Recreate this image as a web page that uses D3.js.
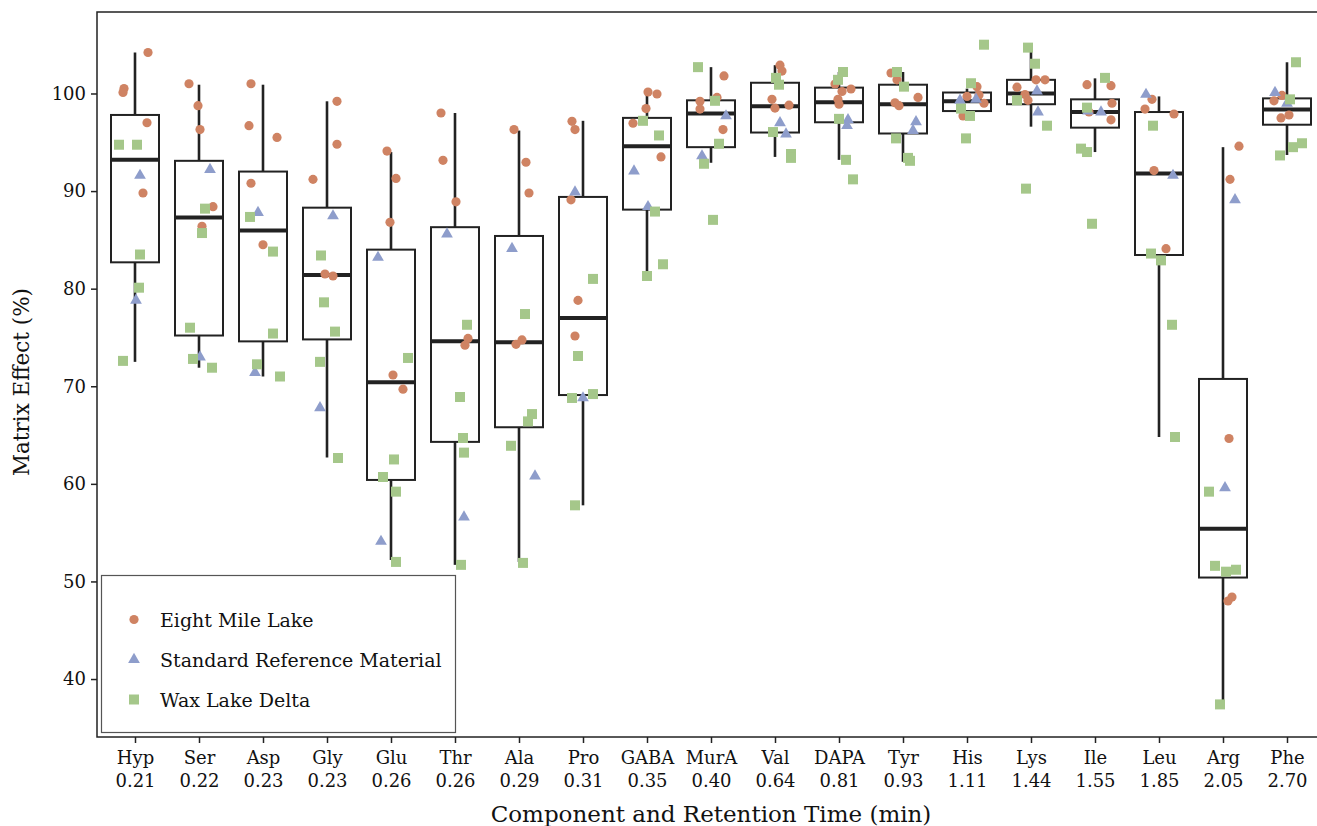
<!DOCTYPE html>
<html>
<head>
<meta charset="utf-8">
<script src="https://cdn.jsdelivr.net/npm/d3@7"></script>
<style>
  body { margin: 0; background: #fff; }
  svg { display: block; font-family: 'DejaVu Serif', serif; }
</style>
</head>
<body>
<div id="chart"></div>
<script>
// components and their retention times (min)
const components = ['Hyp', 'Ser', 'Asp', 'Gly', 'Glu', 'Thr', 'Ala', 'Pro', 'GABA', 'MurA',
  'Val', 'DAPA', 'Tyr', 'His', 'Lys', 'Ile', 'Leu', 'Arg', 'Phe']
const retention = ['0.21', '0.22', '0.23', '0.23', '0.26', '0.26', '0.29', '0.31', '0.35', '0.40',
  '0.64', '0.81', '0.93', '1.11', '1.44', '1.55', '1.85', '2.05', '2.70']

// box stats (%)
const whiskerLow = [72.5, 71.9, 71.0, 62.7, 52.2, 51.7, 52.0, 57.8, 81.5, 92.9, 93.5, 93.2, 93.0, 97.7, 96.6, 94.0, 64.8, 37.4, 93.7]
const q1 = [82.7, 75.2, 74.6, 74.8, 60.4, 64.3, 65.8, 69.1, 88.1, 94.5, 96.0, 97.05, 95.9, 98.2, 98.9, 96.5, 83.45, 50.4, 96.8]
const median = [93.2, 87.3, 85.95, 81.4, 70.4, 74.6, 74.5, 77.0, 94.6, 97.95, 98.7, 99.1, 98.9, 99.2, 100.0, 98.1, 91.8, 55.4, 98.35]
const q3 = [97.8, 93.1, 92.0, 88.3, 84.0, 86.3, 85.4, 89.4, 97.5, 99.3, 101.1, 100.6, 100.9, 100.1, 101.4, 99.4, 98.1, 70.75, 99.5]
const whiskerHigh = [104.2, 100.9, 100.9, 99.2, 94.0, 98.0, 96.2, 97.2, 100.1, 102.7, 102.9, 102.2, 102.2, 100.5, 104.6, 101.55, 99.7, 94.5, 103.2]

// matrix effect per site, one list per component
const eightMile = [
  [104.2, 100.5, 100.1, 97.0, 89.8], [101.0, 98.75, 96.3, 88.4, 86.4], [101.0, 96.7, 95.5, 90.8, 84.5],
  [99.2, 94.8, 91.2, 81.5, 81.3], [94.1, 91.3, 86.8, 71.15, 69.7], [98.0, 93.15, 88.9, 74.9, 74.2],
  [96.3, 92.95, 89.8, 74.75, 74.3], [97.15, 96.3, 89.1, 78.8, 75.15], [100.15, 99.95, 98.45, 96.95, 93.5],
  [101.8, 99.6, 99.2, 98.4, 96.3], [102.9, 102.3, 99.4, 98.8, 98.5], [100.97, 100.46, 100.2, 99.4, 98.9],
  [102.1, 101.4, 99.6, 99.05, 98.75], [100.7, 99.85, 99.7, 99.0, 97.7], [101.4, 101.4, 100.65, 99.9, 99.3],
  [100.9, 100.8, 99.0, 98.1, 97.3], [99.4, 98.4, 97.9, 92.1, 84.1], [94.6, 91.2, 64.65, 48.4, 48.0],
  [99.8, 99.25, 97.8, 97.5]
]
const srm = [
  [91.6, 78.8], [92.2, 73.0], [87.8, 71.4], [87.45, 67.8], [83.2, 54.1], [85.6, 56.6], [84.1, 60.8],
  [89.9, 68.8], [92.05, 88.4], [97.7, 93.6], [97.0, 95.85], [97.3, 96.7], [97.1, 96.2], [99.4, 99.3],
  [100.25, 98.1], [98.2, 98.1], [99.9, 91.6], [89.1, 59.6], [100.1, 99.0]
]
const waxLake = [
  [94.75, 94.75, 83.5, 80.1, 72.6], [88.2, 85.7, 76.0, 72.8, 71.9], [87.35, 83.8, 75.4, 72.25, 71.0],
  [83.4, 78.6, 75.6, 72.5, 62.65], [72.9, 62.5, 60.7, 59.2, 52.0], [76.3, 68.9, 64.7, 63.2, 51.7],
  [77.4, 67.15, 66.4, 63.9, 51.9], [81.0, 73.1, 68.8, 69.2, 57.8], [97.2, 95.7, 87.9, 82.5, 81.3],
  [102.7, 99.25, 94.85, 92.8, 87.05], [101.6, 100.9, 96.05, 93.8, 93.4], [102.2, 101.4, 97.4, 93.2, 91.2],
  [102.2, 100.7, 95.4, 93.4, 93.1], [105.0, 101.05, 98.45, 97.7, 95.4], [104.7, 103.05, 99.3, 96.7, 90.25],
  [101.6, 98.55, 94.35, 94.0, 86.65], [96.7, 83.6, 82.9, 76.3, 64.8], [59.2, 51.6, 51.0, 51.2, 37.4],
  [103.2, 99.4, 94.9, 94.5, 93.65]
]
// horizontal jitter, in units of category step (as drawn in the original)
const eightMileJitter = [
  [13, -11, -12, 12, 8], [-10, -1, 1, 14, 3], [-12, -14, 14, -12, 0], [10, 10, -14, -2, 6], [-4, 5, -1, 2, 12],
  [-14, -12, 1, 13, 10], [-5, 7, 10, 3, -3], [-11, -8, -12, -5, -8], [1, 10, -1, -14, 14], [13, 6, -11, -11, 12],
  [5, 7, -3, 14, 0], [-4, 12, 3, -1, 0], [-12, -6, 15, -8, -4], [10, 12, 0, 17, -4], [5, 14, -14, -6, -3],
  [-8, 16, 17, -6, 16], [-7, -14, 15, -5, 7], [16, 7, 6, 9, 5], [-5, -13, 2, -6]
].map(r => r.map(v => v / 64))
const srmJitter = [
  [5, 1], [11, 1], [-5, -8], [6, -7], [-13, -10], [-8, 9], [-7, 16], [-8, 0], [-13, 1], [15, -9],
  [5, 11], [9, 8], [13, 10], [9, -7], [6, 7], [-7, 6], [-13, 14], [12, 2], [-12, 0]
].map(r => r.map(v => v / 64))
const waxLakeJitter = [
  [-16, 2, 5, 4, -12], [6, 3, -9, -6, 13], [-13, 10, 10, -6, 17], [-6, -3, 8, -7, 11], [17, 3, -8, 5, 5],
  [12, 5, 8, 9, 6], [6, 13, 9, -8, 4], [10, -5, -11, 10, -8], [-4, 12, 8, 16, 0], [-13, 4, 8, -7, 2],
  [1, 4, -2, 16, 16], [4, -1, 0, 7, 14], [-6, 1, -7, 5, 7], [17, 4, -6, 3, -1], [-3, 4, -14, 16, -5],
  [10, -8, -14, -8, -3], [-6, -8, 2, 13, 16], [-14, -8, 3, 13, -3], [9, 3, 15, 6, -7]
].map(r => r.map(v => v / 64))

const series = [
  { name: 'Eight Mile Lake', values: eightMile, jitter: eightMileJitter, shape: d3.symbolCircle, color: '#cf8363', size: 66 },
  { name: 'Standard Reference Material', values: srm, jitter: srmJitter, shape: d3.symbolTriangle, color: '#8e9dcb', size: 60 },
  { name: 'Wax Lake Delta', values: waxLake, jitter: waxLakeJitter, shape: d3.symbolSquare, color: '#a5c78a', size: 100 }
]

const dimensions = {
  width: 1317,
  height: 826,
  margin: { top: 12, right: -9, bottom: 89, left: 97 }
}
const innerW = dimensions.width - dimensions.margin.left - dimensions.margin.right
const innerH = dimensions.height - dimensions.margin.top - dimensions.margin.bottom

const svg = d3.select('#chart').append('svg')
  .attr('width', dimensions.width)
  .attr('height', dimensions.height)

const bounds = svg.append('g')
  .attr('transform', `translate(${dimensions.margin.left}, ${dimensions.margin.top})`)

const xScale = d3.scalePoint()
  .domain(components)
  .range([38, innerW - 39])
const yScale = d3.scaleLinear()
  .domain([34.06, 108.35])
  .range([innerH, 0])

const boxW = xScale.step() * 0.75
const INK = '#222'

// boxes
const boxes = bounds.selectAll('g.box')
  .data(components.map((c, i) => ({ c, lo: whiskerLow[i], q1: q1[i], med: median[i], q3: q3[i], hi: whiskerHigh[i] })))
  .join('g')
  .attr('class', 'box')
  .attr('transform', d => `translate(${xScale(d.c)},0)`)

boxes.append('line')
  .attr('y1', d => yScale(d.hi)).attr('y2', d => yScale(d.q3))
  .attr('stroke', INK).attr('stroke-width', 2.6)
boxes.append('line')
  .attr('y1', d => yScale(d.q1)).attr('y2', d => yScale(d.lo))
  .attr('stroke', INK).attr('stroke-width', 2.6)
boxes.append('rect')
  .attr('x', -boxW / 2)
  .attr('width', boxW)
  .attr('y', d => yScale(d.q3))
  .attr('height', d => yScale(d.q1) - yScale(d.q3))
  .attr('fill', 'none')
  .attr('stroke', INK)
  .attr('stroke-width', 2)
boxes.append('line')
  .attr('x1', -boxW / 2).attr('x2', boxW / 2)
  .attr('y1', d => yScale(d.med)).attr('y2', d => yScale(d.med))
  .attr('stroke', INK).attr('stroke-width', 4)

// points
series.forEach(s => {
  const pts = []
  components.forEach((c, i) => {
    s.values[i].forEach((v, k) => pts.push({ c, v, j: s.jitter[i][k] }))
  })
  bounds.append('g').selectAll('path')
    .data(pts)
    .join('path')
    .attr('d', d3.symbol(s.shape, s.size))
    .attr('transform', d => `translate(${xScale(d.c) + d.j * xScale.step()},${yScale(d.v)})`)
    .attr('fill', s.color)
})

// frame
bounds.append('rect')
  .attr('width', innerW)
  .attr('height', innerH)
  .attr('fill', 'none')
  .attr('stroke', INK)
  .attr('stroke-width', 1.5)

// axes
const xAxis = bounds.append('g')
  .attr('transform', `translate(0, ${innerH})`)
  .call(d3.axisBottom(xScale).tickSize(6).tickSizeOuter(0).tickFormat(''))
xAxis.select('.domain').remove()
xAxis.selectAll('.tick line').attr('stroke', INK).attr('stroke-width', 1.5)
xAxis.selectAll('.tick').each(function (d, i) {
  const t = d3.select(this).append('text')
    .attr('fill', '#111')
    .attr('text-anchor', 'middle')
    .style('font-size', '18px')
  t.append('tspan').attr('x', 0).attr('y', 27).text(d)
  t.append('tspan').attr('x', 0).attr('y', 50).text(retention[i])
})

const yAxis = bounds.append('g')
  .call(d3.axisLeft(yScale).tickValues([40, 50, 60, 70, 80, 90, 100]).tickSize(6).tickPadding(5))
yAxis.select('.domain').remove()
yAxis.selectAll('.tick line').attr('stroke', INK).attr('stroke-width', 1.5)
yAxis.selectAll('.tick text')
  .attr('fill', '#111')
  .style('font-family', 'DejaVu Serif, serif')
  .style('font-size', '18px')
xAxis.selectAll('text').style('font-family', 'DejaVu Serif, serif')

// axis titles
svg.append('text')
  .attr('x', 711)
  .attr('y', 822)
  .attr('text-anchor', 'middle')
  .attr('fill', '#111')
  .style('font-size', '23px')
  .text('Component and Retention Time (min)')
svg.append('text')
  .attr('transform', 'translate(29, 382) rotate(-90)')
  .attr('text-anchor', 'middle')
  .attr('fill', '#111')
  .style('font-size', '21.5px')
  .text('Matrix Effect (%)')

// legend
const legend = svg.append('g')
legend.append('rect')
  .attr('x', 101.5).attr('y', 575.5)
  .attr('width', 354).attr('height', 157)
  .attr('fill', '#fff')
  .attr('stroke', '#555')
  .attr('stroke-width', 1.2)
const items = legend.selectAll('g.item')
  .data(series)
  .join('g')
  .attr('transform', (d, i) => `translate(134, ${619.5 + i * 40})`)
items.append('path')
  .attr('d', d => d3.symbol(d.shape, d.size)())
  .attr('fill', d => d.color)
items.append('text')
  .attr('x', 26)
  .attr('y', 7)
  .attr('fill', '#111')
  .style('font-size', '19px')
  .text(d => d.name)
</script>
</body>
</html>
